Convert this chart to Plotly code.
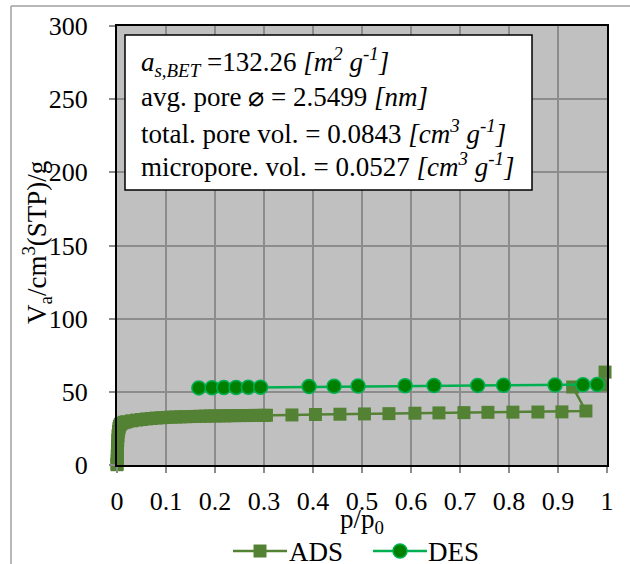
import plotly.graph_objects as go

# ---------------- data ----------------
ads_p = [0.0, 0.0001, 0.0003, 0.0005, 0.0008, 0.001, 0.0015, 0.002, 0.003, 0.004,
         0.005, 0.007, 0.01, 0.015, 0.02, 0.03, 0.04, 0.05, 0.06, 0.07,
         0.08, 0.09, 0.10, 0.11, 0.12, 0.13, 0.14, 0.15, 0.16, 0.17,
         0.18, 0.19, 0.20, 0.21, 0.22, 0.23, 0.24, 0.25, 0.26, 0.27,
         0.28, 0.29, 0.30, 0.305,
         0.357, 0.405, 0.455, 0.505, 0.555, 0.608, 0.657, 0.708, 0.757, 0.808,
         0.859, 0.908, 0.957, 0.93, 0.99, 0.996]
ads_v = [0.2, 0.8, 3.0, 6.0, 10.0, 13.0, 17.0, 20.0, 23.0, 25.0,
         26.5, 27.8, 28.6, 29.2, 29.6, 30.2, 30.7, 31.1, 31.5, 31.8,
         32.1, 32.3, 32.5, 32.7, 32.8, 32.9, 33.0, 33.1, 33.2, 33.3,
         33.4, 33.5, 33.5, 33.6, 33.6, 33.7, 33.7, 33.8, 33.8, 33.8,
         33.9, 33.9, 33.9, 34.0,
         34.2, 34.5, 34.7, 34.9, 35.1, 35.4, 35.6, 35.8, 36.0, 36.1,
         36.2, 36.3, 36.9, 53.3, 54.7, 63.5]

des_p = [0.167, 0.194, 0.218, 0.243, 0.268, 0.293, 0.392, 0.443, 0.492, 0.588,
         0.647, 0.736, 0.789, 0.894, 0.951, 0.980]
des_v = [52.7, 52.8, 52.9, 53.0, 53.1, 53.2, 53.6, 53.8, 54.0, 54.2,
         54.3, 54.4, 54.5, 54.7, 54.8, 55.0]

x_ticks = [0, 0.1, 0.2, 0.3, 0.4, 0.5, 0.6, 0.7, 0.8, 0.9, 1]
x_tick_labels = ["0", "0.1", "0.2", "0.3", "0.4", "0.5", "0.6", "0.7", "0.8", "0.9", "1"]
y_ticks = [0, 50, 100, 150, 200, 250, 300]
series_names = ["ADS", "DES"]

info_lines = [
    "<i>a</i><sub><i>s,BET</i></sub> =132.26 <i>[m</i><sup><i>2</i></sup><i> g</i><sup><i>-1</i></sup><i>]</i>",
    "avg. pore \u2300 = 2.5499 <i>[nm]</i>",
    "total. pore vol. = 0.0843 <i>[cm</i><sup><i>3</i></sup><i> g</i><sup><i>-1</i></sup><i>]</i>",
    "micropore. vol. = 0.0527 <i>[cm</i><sup><i>3</i></sup><i> g</i><sup><i>-1</i></sup><i>]</i>",
]

FONT = "Times New Roman, Liberation Serif, DejaVu Serif, serif"
ADS_C = "#548235"
DES_FILL = "#008000"
DES_LINE = "#00B050"

fig = go.Figure()
fig.add_trace(go.Scatter(
    x=ads_p, y=ads_v, name=series_names[0], mode="lines+markers", cliponaxis=False,
    line=dict(color=ADS_C, width=2.5),
    marker=dict(symbol="square", size=13, color=ADS_C),
))
fig.add_trace(go.Scatter(
    x=des_p, y=des_v, name=series_names[1], mode="lines+markers", cliponaxis=False,
    line=dict(color=DES_LINE, width=2.5),
    marker=dict(symbol="circle", size=14, color=DES_FILL,
                line=dict(color=DES_LINE, width=1.5)),
))

L, R, T, B = 117, 23, 26, 99
W, H = 630, 564
pw, ph = W - L - R, H - T - B

def px_x(px):
    return (px - L) / pw

def px_y(py):
    return 1 - (py - T) / ph

shapes = [
    dict(type="line", xref="paper", yref="paper",
         x0=px_x(11), x1=px_x(11), y0=px_y(600), y1=px_y(6),
         line=dict(color="#a0a0a0", width=1.5)),
    dict(type="line", xref="paper", yref="paper",
         x0=px_x(11), x1=px_x(660), y0=px_y(6), y1=px_y(6),
         line=dict(color="#a0a0a0", width=1.5)),
    dict(type="rect", xref="paper", yref="paper",
         x0=px_x(125), x1=px_x(532), y0=px_y(190), y1=px_y(35),
         fillcolor="white", line=dict(color="black", width=1.5), layer="above"),
]

# legend (drawn below the plot, Excel-style long symbol lines)
LEG_Y = 551
shapes += [
    dict(type="line", xref="paper", yref="paper",
         x0=px_x(233), x1=px_x(287), y0=px_y(LEG_Y), y1=px_y(LEG_Y),
         line=dict(color=ADS_C, width=2.5)),
    dict(type="rect", xref="paper", yref="paper",
         x0=px_x(253.5), x1=px_x(266.5), y0=px_y(LEG_Y + 6.5), y1=px_y(LEG_Y - 6.5),
         fillcolor=ADS_C, line=dict(width=0)),
    dict(type="line", xref="paper", yref="paper",
         x0=px_x(373), x1=px_x(427), y0=px_y(LEG_Y), y1=px_y(LEG_Y),
         line=dict(color=DES_LINE, width=2.5)),
    dict(type="circle", xref="paper", yref="paper",
         x0=px_x(393), x1=px_x(407), y0=px_y(LEG_Y + 7), y1=px_y(LEG_Y - 7),
         fillcolor=DES_FILL, line=dict(color=DES_LINE, width=1.5)),
]

annotations = []
line_y = [62, 97, 132, 165.5]
for txt, yy in zip(info_lines, line_y):
    annotations.append(dict(
        text=txt, xref="paper", yref="paper",
        x=px_x(139), y=px_y(yy), xanchor="left", yanchor="middle",
        showarrow=False, font=dict(family=FONT, size=27, color="black"),
    ))
annotations.append(dict(
    text="V<sub>a</sub>/cm<sup>3</sup>(STP)/g", xref="paper", yref="paper",
    x=px_x(37), y=px_y(243), xanchor="center", yanchor="middle", textangle=-90,
    showarrow=False, font=dict(family=FONT, size=27, color="black"),
))
annotations.append(dict(
    text="p/p<sub>0</sub>", xref="paper", yref="paper",
    x=0.5, y=px_y(521), xanchor="center", yanchor="middle",
    showarrow=False, font=dict(family=FONT, size=27, color="black"),
))
for name, lx in zip(series_names, [287, 426]):
    annotations.append(dict(
        text=name, xref="paper", yref="paper",
        x=px_x(lx), y=px_y(LEG_Y + 1), xanchor="left", yanchor="middle",
        showarrow=False, font=dict(family=FONT, size=27, color="black"),
    ))

fig.update_layout(
    width=W, height=H,
    margin=dict(l=L, r=R, t=T, b=B, autoexpand=False),
    paper_bgcolor="white", plot_bgcolor="#C0C0C0",
    font=dict(family=FONT, size=26, color="black"),
    showlegend=False,
    shapes=shapes, annotations=annotations,
)
fig.update_xaxes(
    range=[0, 1], tickvals=x_ticks, ticktext=x_tick_labels, automargin=False,
    showgrid=True, gridcolor="#8c8c8c", gridwidth=1.5, zeroline=False,
    showline=True, linecolor="black", linewidth=2, mirror=True,
    ticks="outside", ticklen=6, tickcolor="#8c8c8c", tickwidth=1.5,
    tickfont=dict(family=FONT, size=26, color="black"),
    ticklabelstandoff=6,
)
fig.update_yaxes(
    range=[0, 300], tickvals=y_ticks, automargin=False,
    showgrid=True, gridcolor="#8c8c8c", gridwidth=1.5, zeroline=False,
    showline=True, linecolor="black", linewidth=2, mirror=True,
    ticks="outside", ticklen=6, tickcolor="#8c8c8c", tickwidth=1.5,
    tickfont=dict(family=FONT, size=26, color="black"),
    ticklabelstandoff=16,
)

fig.write_html("out.html", config={"displayModeBar": False},
               post_script="document.body.style.margin='0px';")
